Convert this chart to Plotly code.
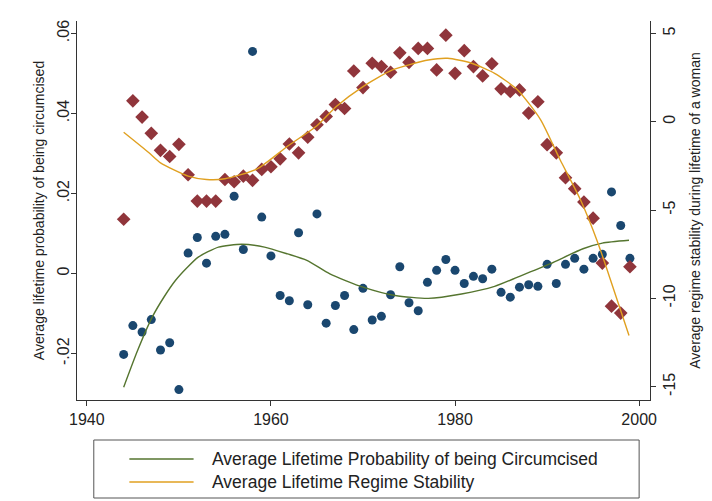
import plotly.graph_objects as go

# Birth cohorts (year of birth)
years = list(range(1944, 2000))

# Average lifetime probability of being circumcised (left axis)
circ = [
    -0.0202, -0.0130, -0.0146, -0.0115, -0.0191, -0.0173, -0.0290, 0.0051,
    0.0090, 0.0026, 0.0093, 0.0098, 0.0193, 0.0060, 0.0555, 0.0141,
    0.0044, -0.0055, -0.0068, 0.0102, -0.0078, 0.0149, -0.0124, -0.0080,
    -0.0055, -0.0140, -0.0037, -0.0116, -0.0107, -0.0053, 0.0017, -0.0073,
    -0.0093, -0.0022, 0.0008, 0.0035, 0.0008, -0.0025, -0.0007, -0.0013,
    0.0011, -0.0047, -0.0059, -0.0034, -0.0028, -0.0032, 0.0023, -0.0025,
    0.0023, 0.0038, 0.0011, 0.0038, 0.0048, 0.0204, 0.0120, 0.0038,
]

# Average lifetime regime stability (right axis)
stab = [
    -5.52, 1.18, 0.26, -0.66, -1.62, -1.97, -1.28, -3.00,
    -4.49, -4.49, -4.49, -3.27, -3.40, -3.08, -3.32, -2.70,
    -2.55, -2.10, -1.26, -1.76, -0.88, -0.17, 0.30, 0.97,
    0.75, 2.87, 1.93, 3.31, 3.12, 2.80, 3.90, 3.36,
    4.15, 4.15, 2.93, 4.90, 2.74, 4.02, 3.12, 2.59,
    3.28, 1.86, 1.71, 1.80, 0.49, 1.13, -1.30, -1.76,
    -3.17, -3.79, -4.55, -5.46, -8.00, -10.44, -10.83, -8.21,
]

# Smoothed fit of the circumcision series
circ_fit_x = [1944, 1945.5, 1947.1, 1948.4, 1949.6, 1950.9, 1952.1, 1954.3, 1956.8,
              1959.3, 1961.8, 1963.9, 1966.4, 1970, 1973.5, 1977.1, 1980.7, 1984.3,
              1986.8, 1990.3, 1993.9, 1996, 1998.9]
circ_fit = [-0.0284, -0.0193, -0.0109, -0.0058, -0.0018, 0.0015, 0.0041, 0.0066, 0.0073,
            0.0066, 0.0049, 0.0033, -0.0001, -0.0034, -0.0055, -0.0062, -0.0051, -0.0032,
            -0.0009, 0.0024, 0.0062, 0.0076, 0.0083]

# Smoothed fit of the regime stability series
stab_fit_x = [1944, 1946.75, 1948, 1951, 1953, 1955, 1958.5, 1961.8, 1965, 1967.1,
              1970, 1973.2, 1977.1, 1979.2, 1981.8, 1984.3, 1986.8, 1989.3, 1991.4,
              1993.6, 1995.5, 1997.1, 1998.9]
stab_fit = [-0.60, -1.76, -2.33, -3.08, -3.27, -3.23, -2.67, -1.39, -0.23, 0.86,
            1.99, 2.93, 3.49, 3.59, 3.31, 2.74, 1.80, 0.11, -2.14,
            -4.39, -6.83, -9.28, -12.10]

x_ticks = [1940, 1960, 1980, 2000]
left_ticks = [-0.02, 0, 0.02, 0.04, 0.06]
left_labels = ["-.02", "0", ".02", ".04", ".06"]
right_ticks = [-15, -10, -5, 0, 5]
right_labels = ["-15", "-10", "-5", "0", "5"]

label_circ = "Average Lifetime Probability of being Circumcised"
label_stab = "Average Lifetime Regime Stability"

NAVY = "#1a476f"
MAROON = "#90353b"
GREEN = "#55752f"
GOLD = "#e0a020"
FONT = "Liberation Sans, Arial, sans-serif"

fig = go.Figure()
fig.add_trace(go.Scatter(
    x=years, y=circ, mode="markers", name="circumcised",
    marker=dict(symbol="circle", size=9, color=NAVY), showlegend=False,
))
fig.add_trace(go.Scatter(
    x=circ_fit_x, y=circ_fit, mode="lines", name=label_circ,
    line=dict(color=GREEN, width=1.4, shape="spline", smoothing=0.6), showlegend=False,
))
fig.add_trace(go.Scatter(
    x=years, y=stab, mode="markers", name="stability", yaxis="y2",
    marker=dict(symbol="diamond", size=10.5, color=MAROON), showlegend=False,
))
fig.add_trace(go.Scatter(
    x=stab_fit_x, y=stab_fit, mode="lines", name=label_stab, yaxis="y2",
    line=dict(color=GOLD, width=1.4, shape="spline", smoothing=0.6), showlegend=False,
))

axis_common = dict(
    showgrid=False, zeroline=False, showline=True, linecolor="#333333", linewidth=1,
    ticks="outside", ticklen=5, tickcolor="#333333",
    tickfont=dict(family=FONT, size=16, color="#222222"),
)

fig.update_layout(
    width=712, height=501,
    margin=dict(l=77, r=55, t=21, b=101),
    paper_bgcolor="white", plot_bgcolor="white",
    font=dict(family=FONT, color="#222222"),
    xaxis=dict(
        range=[1938.93, 2001.18], tickvals=x_ticks, **axis_common,
    ),
    yaxis=dict(
        range=[-0.0316, 0.0631], tickvals=left_ticks, ticktext=left_labels,
        tickangle=-90, ticklabelstandoff=-4,
        title=dict(text="Average lifetime probability of being circumcised",
                   font=dict(family=FONT, size=14, color="#222222"), standoff=6),
        **axis_common,
    ),
    yaxis2=dict(
        range=[-15.75, 5.70], tickvals=right_ticks, ticktext=right_labels,
        overlaying="y", side="right", tickangle=-90,
        title=dict(text="Average regime stability during lifetime of a woman",
                   font=dict(family=FONT, size=14, color="#222222"), standoff=12),
        **axis_common,
    ),
)

# Legend box below the plot
W, H = 580.0, 379.0
def px(xp):
    return (xp - 77) / W
def py(yp):
    return (400 - yp) / H

fig.add_shape(type="rect", xref="paper", yref="paper",
              x0=px(94), x1=px(646), y0=py(440), y1=py(498),
              line=dict(color="#555555", width=1), fillcolor="white")
for (row_y, color, text) in [(459, GREEN, label_circ), (482, GOLD, label_stab)]:
    fig.add_shape(type="line", xref="paper", yref="paper",
                  x0=px(130), x1=px(195), y0=py(row_y), y1=py(row_y),
                  line=dict(color=color, width=1.4))
    fig.add_annotation(xref="paper", yref="paper", x=px(212), y=py(row_y),
                       text=text, showarrow=False, xanchor="left", yanchor="middle",
                       font=dict(family=FONT, size=17.5, color="#222222"))

fig.write_html("out.html")
